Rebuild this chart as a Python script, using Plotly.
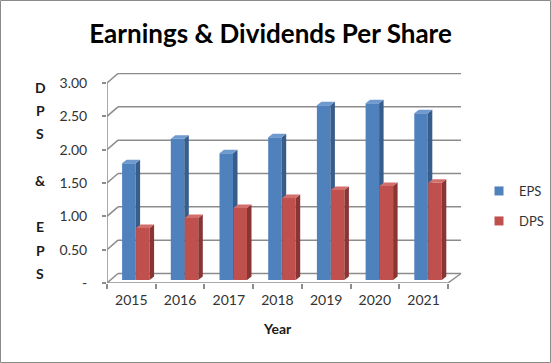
import plotly.graph_objects as go

# ---------------- data ----------------
years = ["2015", "2016", "2017", "2018", "2019", "2020", "2021"]
eps = [1.75, 2.12, 1.90, 2.14, 2.62, 2.65, 2.50]
dps = [0.78, 0.93, 1.08, 1.23, 1.35, 1.41, 1.46]
y_tick_vals = [0, 0.5, 1.0, 1.5, 2.0, 2.5, 3.0]
y_tick_text = ["-", "0.50", "1.00", "1.50", "2.00", "2.50", "3.00"]
y_title_letters = ["D", "P", "S", "", "&", "", "E", "P", "S"]

# ---------------- geometry (pixels) ----------------
W, H = 551, 363
L, R, T, B = 107, 89, 73, 80
PW, PH = W - L - R, H - T - B
CAT_PX = 48.7          # pixels per category
UNIT_PX = 66.67        # pixels per 1.00
X0 = -0.5
XMAX = X0 + PW / CAT_PX
YMAX = PH / UNIT_PX

def dxu(px):
    return px / CAT_PX

def dyu(px):
    return px / UNIT_PX

FONT = "Lato"
EPS_FRONT, EPS_SIDE, EPS_TOP = "#4F81BD", "#385D8A", "#6F9AD0"
DPS_FRONT, DPS_SIDE, DPS_TOP = "#C0504D", "#8A3533", "#D26F6C"
GRID = "#8C8C8C"

bar_w = dxu(13.5)
off_e = dxu(-2.5)
off_d = dxu(11.5)
depth_x = dxu(4.5)
depth_y = dyu(3.5)
bar_base_shift = dyu(3)

xs = list(range(len(years)))

def faces(vals, off):
    sx, sy, tx, ty = [], [], [], []
    for i, v in zip(xs, vals):
        l = i + off - bar_w / 2
        r = i + off + bar_w / 2
        sx += [r, r, r + depth_x, r + depth_x, r, None]
        sy += [0, v, v + depth_y, depth_y, 0, None]
        tx += [l, r, r + depth_x, l + depth_x, l, None]
        ty += [v, v, v + depth_y, v + depth_y, v, None]
    return sx, sy, tx, ty

fig = go.Figure()

def add_series(vals, off, front, side, top, yax):
    fig.add_trace(go.Bar(x=[i + off for i in xs], y=vals, width=bar_w,
                         marker=dict(color=front, line=dict(width=0)),
                         xaxis="x", yaxis=yax, showlegend=False, hoverinfo="skip"))
    sx, sy, tx, ty = faces(vals, off)
    fig.add_trace(go.Scatter(x=sx, y=sy, fill="toself", fillcolor=side, mode="lines",
                             line=dict(width=0, color=side), xaxis="x", yaxis=yax,
                             showlegend=False, hoverinfo="skip"))
    fig.add_trace(go.Scatter(x=tx, y=ty, fill="toself", fillcolor=top, mode="lines",
                             line=dict(width=0, color=top), xaxis="x", yaxis=yax,
                             showlegend=False, hoverinfo="skip"))

add_series(eps, off_e, EPS_FRONT, EPS_SIDE, EPS_TOP, "y2")
add_series(dps, off_d, DPS_FRONT, DPS_SIDE, DPS_TOP, "y3")

# legend entries
fig.add_trace(go.Scatter(x=[None], y=[None], mode="markers", name="EPS",
                         marker=dict(symbol="square", size=9, color=EPS_FRONT),
                         legend="legend"))
fig.add_trace(go.Scatter(x=[None], y=[None], mode="markers", name="DPS",
                         marker=dict(symbol="square", size=9, color=DPS_FRONT),
                         legend="legend2"))

# ---------------- 3D frame (back wall grid, side wall, floor) ----------------
shapes = []
back_l = X0 + dxu(11)
back_r = X0 + dxu(354)
wall_dy = dyu(9.5)
for v in y_tick_vals:
    shapes.append(dict(type="line", xref="x", yref="y", x0=back_l, x1=back_r,
                       y0=v + wall_dy, y1=v + wall_dy, line=dict(color=GRID, width=1.5), layer="below"))
    shapes.append(dict(type="line", xref="x", yref="y", x0=X0, x1=back_l,
                       y0=v, y1=v + wall_dy, line=dict(color=GRID, width=1.5), layer="below"))
shapes.append(dict(type="line", xref="x", yref="y", x0=X0, x1=len(years) - 0.5, y0=0, y1=0,
                   line=dict(color=GRID, width=1.5), layer="below"))
shapes.append(dict(type="line", xref="x", yref="y", x0=len(years) - 0.5, x1=back_r,
                   y0=0, y1=wall_dy, line=dict(color=GRID, width=1.5), layer="below"))
shapes.append(dict(type="line", xref="x", yref="y", x0=X0, x1=X0, y0=0, y1=3,
                   line=dict(color=GRID, width=1.5), layer="below"))
# outer chart border
shapes.append(dict(type="rect", xref="paper", yref="paper",
                   x0=-L / PW + 0.5 / PW, x1=1 + (R - 0.5) / PW,
                   y0=-(B - 0.5) / PH, y1=1 + (T - 0.5) / PH,
                   line=dict(color="#8A8A8A", width=1)))

# ---------------- annotations ----------------
ann = []
for k, ch in enumerate(y_title_letters):
    if not ch:
        continue
    py = 87 + k * 23.3
    ann.append(dict(text=ch, xref="paper", yref="paper", x=(40 - L) / PW, y=(H - B - py) / PH,
                    showarrow=False, xanchor="center", yanchor="middle",
                    font=dict(family=FONT, size=14, color="#1a1a1a", weight="bold")))
ann.append(dict(text="<b>Year</b>", xref="paper", yref="paper", x=(277 - L) / PW,
                y=(H - B - 328) / PH, showarrow=False, xanchor="center", yanchor="middle",
                font=dict(family=FONT, size=14, color="#1a1a1a")))

fig.update_layout(
    width=W, height=H,
    margin=dict(l=L, r=R, t=T, b=B, pad=0, autoexpand=False),
    paper_bgcolor="white", plot_bgcolor="white",
    title=dict(text="<b>Earnings & Dividends Per Share</b>", x=270.5 / W, xanchor="center",
               y=1 - 34 / H, yanchor="middle", yref="container",
               font=dict(family=FONT, size=26, color="#000000")),
    font=dict(family=FONT, size=14, color="#333333"),
    barmode="overlay",
    xaxis=dict(range=[X0, XMAX], tickvals=xs, ticktext=years, showgrid=False, zeroline=False,
               showline=False, ticks="", tickfont=dict(size=14, color="#333333"),
               ticklabelstandoff=7, fixedrange=True),
    xaxis2=dict(range=[X0, XMAX], overlaying="x", side="bottom",
                tickvals=[i - 0.5 for i in range(len(years) + 1)], showticklabels=False,
                ticks="outside", ticklen=5, tickcolor=GRID, tickwidth=1.5,
                showgrid=False, zeroline=False, showline=False),
    yaxis=dict(range=[0, YMAX], tickvals=y_tick_vals, ticktext=y_tick_text, showgrid=False,
               zeroline=False, showline=False, ticks="outside", ticklen=4, tickcolor=GRID,
               tickwidth=1.5, tickfont=dict(size=14, color="#333333"), ticklabelstandoff=12),
    yaxis2=dict(range=[-bar_base_shift, YMAX - bar_base_shift], overlaying="y", visible=False),
    yaxis3=dict(range=[-bar_base_shift, YMAX - bar_base_shift], overlaying="y", visible=False),
    legend=dict(x=(479 - L) / PW, y=(H - B - 191) / PH, xanchor="left", yanchor="middle",
                font=dict(size=13, color="#333333"), bgcolor="rgba(0,0,0,0)",
                itemwidth=30, tracegroupgap=0),
    legend2=dict(x=(479 - L) / PW, y=(H - B - 221) / PH, xanchor="left", yanchor="middle",
                 font=dict(size=13, color="#333333"), bgcolor="rgba(0,0,0,0)",
                 itemwidth=30, tracegroupgap=0),
    shapes=shapes, annotations=ann,
)
# dummy trace to activate xaxis2 ticks
fig.add_trace(go.Scatter(x=[None], y=[None], xaxis="x2", yaxis="y", showlegend=False,
                         hoverinfo="skip"))

fig.write_html("out.html", config={"displayModeBar": False},
               post_script="document.body.style.margin='0';document.body.style.padding='0';")
